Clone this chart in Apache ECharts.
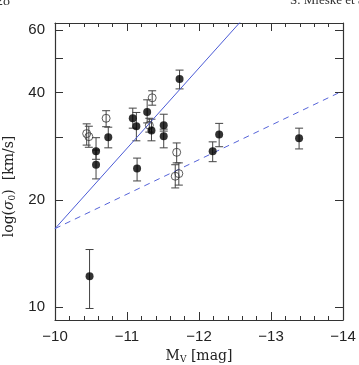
<!DOCTYPE html>
<html>
<head>
<meta charset="utf-8">
<script src="https://cdn.jsdelivr.net/npm/echarts@6/dist/echarts.min.js"></script>
<style>
  html, body { margin: 0; padding: 0; background: #fff; }
  #chart { width: 359px; height: 365px; }
</style>
</head>
<body>
<div id="chart"></div>
<script>
// filled points: M_V, sigma, lower / upper error
const filledM = [-10.48, -10.57, -10.57, -10.74, -11.08, -11.13, -11.14, -11.28, -11.34, -11.51, -11.51, -11.73, -12.28, -12.19, -13.39]
const filledSigma = [12.2, 27.4, 25.1, 30.0, 33.9, 32.2, 24.5, 35.3, 31.3, 32.4, 30.2, 43.7, 30.5, 27.4, 29.8]
const filledLo = [9.9, 26.0, 22.9, 28.0, 31.8, 29.3, 22.6, 32.9, 29.3, 31.2, 28.0, 41.0, 28.2, 25.6, 27.8]
const filledHi = [14.5, 29.9, 27.6, 32.0, 36.2, 35.2, 26.2, 38.2, 33.7, 34.8, 31.6, 46.3, 32.8, 29.1, 31.8]

// open points
const openM = [-10.44, -10.47, -10.71, -11.35, -11.31, -11.69, -11.67, -11.72]
const openSigma = [30.7, 30.1, 33.9, 38.7, 32.4, 27.2, 23.3, 23.7]
const openLo = [28.5, 28.1, 32.1, 36.9, 31.0, 25.4, 21.6, 22.0]
const openHi = [32.7, 32.2, 35.6, 40.5, 33.9, 28.9, 25.1, 25.4]

// relations
const solidM = [-10, -13]
const solidSigma = [16.6, 78.9]
const dashedM = [-10, -14]
const dashedSigma = [16.6, 40.5]

const yTicks = [10, 20, 30, 40, 50, 60]
const yLabels = [10, 20, 40, 60]

const zip = (a, b) => a.map((v, i) => [v, b[i]])
const errData = (m, lo, hi) => m.map((v, i) => [v, lo[i], hi[i]])

function renderErr (params, api) {
  const p1 = api.coord([api.value(0), api.value(2)])
  const p2 = api.coord([api.value(0), api.value(1)])
  const w = 4
  const st = { stroke: '#444', lineWidth: 1 }
  return {
    type: 'group',
    children: [
      { type: 'line', shape: { x1: p1[0], y1: p1[1], x2: p2[0], y2: p2[1] }, style: st },
      { type: 'line', shape: { x1: p1[0] - w, y1: p1[1], x2: p1[0] + w, y2: p1[1] }, style: st },
      { type: 'line', shape: { x1: p2[0] - w, y1: p2[1], x2: p2[0] + w, y2: p2[1] }, style: st }
    ]
  }
}

const axisLine = { show: true, lineStyle: { color: '#333', width: 1.2 } }
const tickFont = { fontFamily: 'Liberation Sans, Arial, sans-serif', fontSize: 15, color: '#222' }

const xBase = {
  type: 'value', min: -14, max: -10, interval: 1, inverse: true,
  axisLine: axisLine,
  axisTick: { inside: true, length: 8, lineStyle: { color: '#333' } },
  splitLine: { show: false }
}
// second set of x axes only for the 0.2 mag minor ticks
const xMinor = {
  type: 'value', min: -14, max: -10, interval: 0.2, inverse: true,
  axisLine: { show: false },
  axisTick: { inside: true, length: 4, lineStyle: { color: '#333' } },
  axisLabel: { show: false },
  splitLine: { show: false }
}
const yBase = {
  type: 'log', logBase: 10, min: 9.19, max: 62.8,
  axisLine: axisLine,
  axisTick: { inside: true, length: 8, customValues: yTicks, lineStyle: { color: '#333' } },
  splitLine: { show: false },
  minorTick: { show: false }
}

const chart = echarts.init(document.getElementById('chart'))
chart.setOption({
  animation: false,
  grid: { left: 55, right: 16, top: 23, bottom: 45, containLabel: false, outerBoundsMode: 'none' },
  graphic: [
    { type: 'text', left: -4, top: -6, style: { text: '28', font: '14px "Liberation Serif", serif', fill: '#333' } },
    { type: 'text', left: 290, top: -6, style: { text: 'S. Mieske et al.', font: '13px "Liberation Serif", serif', fill: '#333' } }
  ],
  xAxis: [
    Object.assign({}, xBase, {
      position: 'bottom',
      axisLabel: Object.assign({ margin: 9, formatter: v => '\u2212' + Math.abs(v) }, tickFont),
      name: '{m|M}{s|V}{m| [mag]}',
      nameLocation: 'middle',
      nameGap: 23,
      nameTextStyle: {
        rich: {
          m: { fontFamily: 'DejaVu Serif, serif', fontSize: 14, color: '#222' },
          s: { fontFamily: 'DejaVu Serif, serif', fontSize: 9, color: '#222', verticalAlign: 'bottom', padding: [8, 0, 0, 0] }
        }
      }
    }),
    Object.assign({}, xBase, { position: 'top', axisLabel: { show: false } }),
    Object.assign({}, xMinor, { position: 'bottom' }),
    Object.assign({}, xMinor, { position: 'top' })
  ],
  yAxis: [
    Object.assign({}, yBase, {
      position: 'left',
      axisLabel: Object.assign({ margin: 10, customValues: yLabels }, tickFont),
      name: '{m|log(}{g|σ}{s|0}{m|)  [km/s]}{pad|}',
      nameLocation: 'middle',
      nameGap: 37,
      nameRotate: 90,
      nameTextStyle: {
        rich: {
          m: { fontFamily: 'DejaVu Serif, serif', fontSize: 14, color: '#222' },
          g: { fontFamily: 'DejaVu Serif, serif', fontSize: 14, fontStyle: 'italic', color: '#222' },
          s: { fontFamily: 'DejaVu Serif, serif', fontSize: 9, color: '#222', verticalAlign: 'bottom', padding: [8, 0, 0, 0] },
          pad: { width: 30 }
        }
      }
    }),
    Object.assign({}, yBase, { position: 'right', axisLabel: { show: false } })
  ],
  series: [
    {
      type: 'line', data: zip(solidM, solidSigma), symbol: 'none', clip: true,
      lineStyle: { color: '#4b5bd6', width: 1 }
    },
    {
      type: 'line', data: zip(dashedM, dashedSigma), symbol: 'none', clip: true,
      lineStyle: { color: '#5563d8', width: 1, type: [6, 5] }
    },
    {
      type: 'custom', renderItem: renderErr, data: errData(filledM, filledLo, filledHi), z: 3
    },
    {
      type: 'custom', renderItem: renderErr, data: errData(openM, openLo, openHi), z: 3
    },
    {
      type: 'scatter', data: zip(openM, openSigma), symbol: 'circle', symbolSize: 8, z: 4,
      itemStyle: { color: 'rgba(255,255,255,0)', borderColor: '#333', borderWidth: 1 }
    },
    {
      type: 'scatter', data: zip(filledM, filledSigma), symbol: 'circle', symbolSize: 8, z: 5,
      itemStyle: { color: '#000' }
    }
  ]
})
</script>
</body>
</html>
